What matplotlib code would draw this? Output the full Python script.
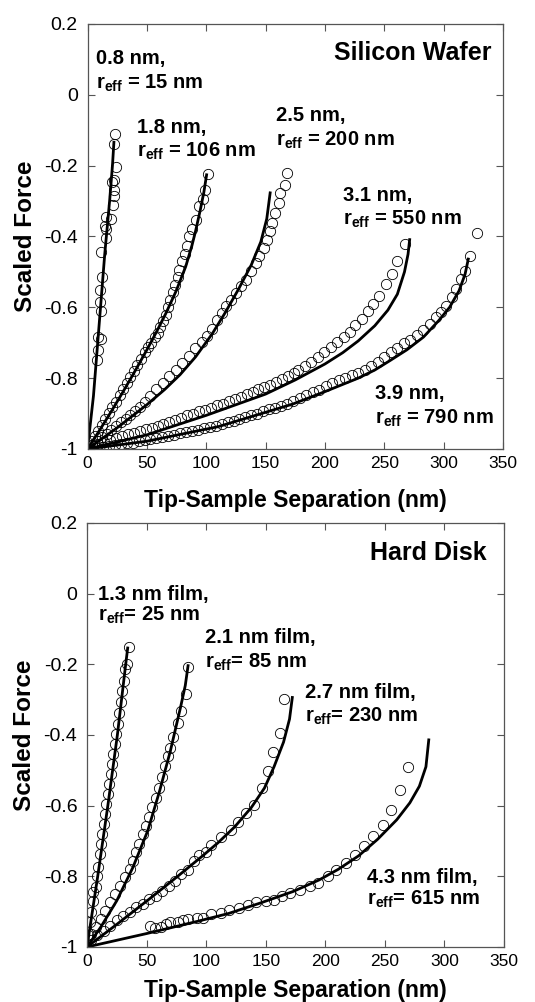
import matplotlib
matplotlib.use("Agg")
import matplotlib.pyplot as plt

plt.rcParams["font.family"] = ["Liberation Sans", "DejaVu Sans"]
plt.rcParams["mathtext.fontset"] = "custom"
plt.rcParams["mathtext.rm"] = "Liberation Sans:bold"
plt.rcParams["mathtext.bf"] = "Liberation Sans:bold"
plt.rcParams["axes.unicode_minus"] = False

# ---------------- Silicon wafer (top) ----------------
si08_fit_x = [0, 5, 10, 14.5, 18.6, 21, 22.3]
si08_fit_y = [-1, -0.85, -0.64, -0.45, -0.30, -0.2, -0.13]
si08_x = [7.7, 9.0, 9.0, 11.7, 11.7, 10.4, 10.4, 12.6, 11.7, 15.3, 15.8, 14.5,
          19.9, 15.8, 21.3, 22.7, 22.7, 20.8, 21.9, 24.0, 22.0, 22.8]
si08_y = [-0.75, -0.72, -0.685, -0.69, -0.61, -0.585, -0.55, -0.515, -0.445, -0.405,
          -0.38, -0.37, -0.35, -0.345, -0.31, -0.285, -0.27, -0.245, -0.24, -0.205,
          -0.14, -0.11]

si18_fit_x = [0, 10, 20, 30, 40, 50, 58, 66, 74.5, 82.7, 88, 91, 95, 98, 100.5]
si18_fit_y = [-1, -0.948, -0.894, -0.838, -0.78, -0.72, -0.67, -0.617, -0.555, -0.485,
              -0.425, -0.385, -0.325, -0.275, -0.222]
si18_x = [3, 6, 9, 12, 15, 18, 21, 24, 27, 30, 33, 36, 39, 42, 45, 48, 51.1, 53.8, 56.6,
          59.3, 61.3, 63.5, 65.7, 67.6, 69.5, 71.7, 73.9, 75.8, 77.2, 79.9, 82.1, 84.1,
          85.4, 88.2, 91.5, 93.7, 97.0, 98.6, 101.9]
si18_y = [-0.978, -0.962, -0.948, -0.932, -0.915, -0.898, -0.882, -0.866, -0.848, -0.832,
          -0.815, -0.797, -0.78, -0.762, -0.745, -0.725, -0.712, -0.70, -0.685, -0.672,
          -0.655, -0.638, -0.621, -0.60, -0.58, -0.558, -0.536, -0.514, -0.494, -0.47,
          -0.449, -0.426, -0.40, -0.379, -0.353, -0.315, -0.294, -0.27, -0.225]

si25_fit_x = [0, 25, 50, 65, 78, 91, 105, 116, 127, 138, 146, 151, 154]
si25_fit_y = [-1, -0.94, -0.875, -0.832, -0.79, -0.74, -0.675, -0.615, -0.55, -0.48,
              -0.415, -0.35, -0.273]
si25_x = [4, 8, 12, 16, 20, 24, 28, 32, 36, 40, 44, 48, 52.5, 58, 63.5, 69, 74.5, 79.9,
          85.4, 90.9, 96.4, 100.5, 104.7, 108.8, 112.9, 117, 121.2, 125.3, 129.4, 133.5,
          137.6, 141.8, 144.5, 148.6, 151.4, 153.6, 155.5, 158.2, 161, 162.4, 166.5, 168.4]
si25_y = [-0.99, -0.978, -0.967, -0.957, -0.947, -0.936, -0.925, -0.914, -0.903, -0.892,
          -0.881, -0.868, -0.85, -0.832, -0.815, -0.795, -0.776, -0.757, -0.737, -0.715,
          -0.698, -0.68, -0.66, -0.635, -0.616, -0.597, -0.578, -0.56, -0.541, -0.522,
          -0.498, -0.475, -0.456, -0.433, -0.409, -0.385, -0.362, -0.334, -0.305, -0.277,
          -0.254, -0.221]

si31_fit_x = [0, 50, 100, 150, 175, 200, 215, 228, 242, 253, 261, 267, 270, 271.5]
si31_fit_y = [-1, -0.96, -0.905, -0.845, -0.805, -0.76, -0.728, -0.695, -0.652, -0.608,
              -0.563, -0.50, -0.45, -0.405]
si31_x = [4, 9, 14, 19, 24, 29, 34, 39, 44, 49, 54, 59, 64, 69, 74, 79, 84, 89, 94, 99,
          104, 109, 114, 119, 124, 129, 134, 139, 144, 149, 154, 159, 164, 169, 174,
          177.6, 183.1, 188.5, 194, 199.5, 204.9, 210.4, 215.8, 221.3, 225.4, 230.9,
          236.3, 240.4, 245.9, 251.4, 256.8, 260.9, 267.8]
si31_y = [-0.99, -0.985, -0.98, -0.975, -0.97, -0.964, -0.958, -0.955, -0.949, -0.944,
          -0.94, -0.934, -0.929, -0.923, -0.918, -0.912, -0.905, -0.901, -0.894, -0.889,
          -0.884, -0.877, -0.872, -0.864, -0.86, -0.853, -0.846, -0.84, -0.832, -0.826,
          -0.818, -0.81, -0.803, -0.795, -0.786, -0.777, -0.766, -0.753, -0.74, -0.726,
          -0.712, -0.698, -0.684, -0.67, -0.651, -0.633, -0.609, -0.591, -0.567, -0.535,
          -0.507, -0.47, -0.42]

si39_fit_x = [0, 50, 110, 173, 200, 228, 242, 255, 269, 283, 296, 305, 313, 318, 321]
si39_fit_y = [-1, -0.978, -0.937, -0.873, -0.838, -0.80, -0.777, -0.75, -0.72, -0.684,
              -0.637, -0.60, -0.553, -0.507, -0.46]
si39_x = [8, 13, 18, 23, 28, 33, 38, 43, 48, 53, 58, 63, 68, 73, 78, 83, 88, 93, 98, 103,
          108, 113, 118, 123, 128, 133, 138, 143, 148, 153, 158, 163, 168, 173.5, 178.9,
          184.4, 189.9, 195.4, 200.8, 206.3, 211.7, 217.2, 222.7, 228.1, 233.6, 239.1,
          244.5, 250, 255.5, 260.9, 266.4, 271.9, 277.3, 282.8, 288.3, 293.7, 297.8,
          301.9, 307.4, 310.1, 314.2, 318.3, 322.4, 328]
si39_y = [-0.996, -0.994, -0.992, -0.99, -0.986, -0.984, -0.982, -0.978, -0.975, -0.972,
          -0.968, -0.966, -0.962, -0.96, -0.955, -0.952, -0.948, -0.945, -0.94, -0.938,
          -0.935, -0.93, -0.925, -0.92, -0.916, -0.91, -0.904, -0.90, -0.893, -0.888,
          -0.884, -0.878, -0.872, -0.865, -0.856, -0.847, -0.84, -0.833, -0.823, -0.814,
          -0.805, -0.80, -0.792, -0.786, -0.777, -0.767, -0.753, -0.74, -0.726, -0.716,
          -0.702, -0.693, -0.679, -0.665, -0.647, -0.628, -0.614, -0.595, -0.572, -0.549,
          -0.521, -0.498, -0.456, -0.39]

# ---------------- Hard disk (bottom) ----------------
hd13_fit_x = [0, 9, 17.5, 25.5, 32.5, 34.3]
hd13_fit_y = [-1, -0.8, -0.6, -0.4, -0.2, -0.15]
hd13_x = [0.8, 2.5, 3.5, 5, 5.2, 7.2, 8.6, 9.5, 10.5, 11.5, 13, 14, 15, 16, 17.5, 18.8,
          20, 21, 22.2, 23.5, 24.5, 25.8, 27.2, 28.3, 29.5, 30.7, 32, 34, 35.5]
hd13_y = [-0.965, -0.93, -0.90, -0.87, -0.845, -0.83, -0.80, -0.775, -0.737, -0.709,
          -0.68, -0.652, -0.624, -0.596, -0.567, -0.539, -0.511, -0.483, -0.454, -0.426,
          -0.398, -0.37, -0.337, -0.308, -0.275, -0.247, -0.214, -0.198, -0.15]

hd21_fit_x = [0, 11.5, 25, 38.5, 51, 61, 70, 78.5, 82.5, 85]
hd21_fit_y = [-1, -0.944, -0.869, -0.775, -0.671, -0.558, -0.445, -0.322, -0.26, -0.2]
hd21_x = [3.3, 7.3, 11.4, 15.5, 19.6, 23.6, 27.7, 31.8, 35.9, 38.6, 41.3, 44, 46.7, 49.5,
          52.2, 54.9, 57.6, 60.3, 63, 65.8, 67.9, 69.8, 72.6, 76.6, 79.3, 83.4, 84.8]
hd21_y = [-0.963, -0.944, -0.921, -0.897, -0.874, -0.85, -0.826, -0.803, -0.779, -0.756,
          -0.732, -0.709, -0.68, -0.657, -0.633, -0.605, -0.577, -0.549, -0.52, -0.487,
          -0.459, -0.436, -0.407, -0.365, -0.332, -0.285, -0.209]

hd27_fit_x = [0, 25, 52, 75, 96, 110, 124, 138, 149, 157, 165, 170, 172.5]
hd27_fit_y = [-1, -0.936, -0.865, -0.803, -0.745, -0.705, -0.66, -0.605, -0.55, -0.49,
              -0.42, -0.355, -0.29]
hd27_x = [3.5, 8.7, 14.1, 19.6, 25, 30.4, 35.9, 41.3, 46.7, 52.2, 57.6, 63, 68.5, 73.9,
          79.3, 84.8, 89.9, 94, 99.5, 104.5, 112.5, 120.5, 127, 133.6, 140.4, 146.5, 152,
          156.3, 161.6, 165.5]
hd27_y = [-0.98, -0.965, -0.954, -0.94, -0.925, -0.913, -0.902, -0.888, -0.878, -0.865,
          -0.855, -0.841, -0.826, -0.812, -0.793, -0.782, -0.758, -0.74, -0.73, -0.71,
          -0.688, -0.668, -0.645, -0.62, -0.599, -0.55, -0.502, -0.449, -0.395, -0.298]

hd43_fit_x = [0, 50, 92, 119, 146, 173, 195, 211, 228, 244, 260, 271, 279, 284.5, 287]
hd43_fit_y = [-1, -0.962, -0.928, -0.905, -0.875, -0.843, -0.81, -0.78, -0.742, -0.695,
              -0.64, -0.592, -0.545, -0.49, -0.41]
hd43_x = [53, 57, 62, 66, 70, 76, 81, 85, 92, 97.3, 104.1, 112.2, 119, 127.2, 135.3,
          142.1, 150.3, 157.1, 163.9, 170.7, 178.8, 187, 193.8, 201.9, 208.7, 217.4, 225,
          232.6, 240, 248.1, 254.9, 262.5, 269.8]
hd43_y = [-0.94, -0.945, -0.943, -0.935, -0.928, -0.928, -0.925, -0.921, -0.918, -0.918,
          -0.908, -0.904, -0.894, -0.889, -0.88, -0.873, -0.871, -0.866, -0.856, -0.847,
          -0.838, -0.828, -0.819, -0.80, -0.781, -0.762, -0.739, -0.715, -0.687, -0.654,
          -0.612, -0.557, -0.49]

x_ticks = [0, 50, 100, 150, 200, 250, 300, 350]
y_ticks = [-1, -0.8, -0.6, -0.4, -0.2, 0, 0.2]
y_tick_labels = ["-1", "-0.8", "-0.6", "-0.4", "-0.2", "0", "0.2"]

top_series = [(si08_x, si08_y, si08_fit_x, si08_fit_y),
              (si18_x, si18_y, si18_fit_x, si18_fit_y),
              (si25_x, si25_y, si25_fit_x, si25_fit_y),
              (si31_x, si31_y, si31_fit_x, si31_fit_y),
              (si39_x, si39_y, si39_fit_x, si39_fit_y)]
bot_series = [(hd13_x, hd13_y, hd13_fit_x, hd13_fit_y),
              (hd21_x, hd21_y, hd21_fit_x, hd21_fit_y),
              (hd27_x, hd27_y, hd27_fit_x, hd27_fit_y),
              (hd43_x, hd43_y, hd43_fit_x, hd43_fit_y)]

R = r"$\mathbf{r}_{\mathbf{eff}}$"
# (text, x, y) in data units, baseline anchored
top_notes = [("0.8 nm,", 7.2, 0.087), (R + " = 15 nm", 7.2, 0.0165),
             ("1.8 nm,", 41.9, -0.108), (R + " = 106 nm", 41.9, -0.175),
             ("2.5 nm,", 158.8, -0.074), (R + " = 200 nm", 158.8, -0.144),
             ("3.1 nm,", 215.2, -0.30), (R + " = 550 nm", 215.2, -0.367),
             ("3.9 nm,", 242.2, -0.859), (R + " = 790 nm", 242.2, -0.929)]
bot_notes = [("1.3 nm film,", 9.2, -0.018), (R + "= 25 nm", 9.2, -0.077),
             ("2.1 nm film,", 99.2, -0.14), (R + "= 85 nm", 99.2, -0.211),
             ("2.7 nm film,", 183.2, -0.296), (R + "= 230 nm", 183.2, -0.362),
             ("4.3 nm film,", 235.3, -0.82), (R + "= 615 nm", 235.3, -0.881)]

fig = plt.figure(figsize=(5.35, 10.02), dpi=100)
ax_top = fig.add_axes([0.1636, 0.5519, 0.7766, 0.4242])
ax_bot = fig.add_axes([0.1626, 0.0549, 0.7794, 0.4232])


def style_axis(ax, title, title_xy, series, notes):
    for xs, ys, fx, fy in series:
        ax.plot(xs, ys, linestyle="none", marker="o", markersize=7.4,
                markerfacecolor="none", markeredgecolor="black", markeredgewidth=0.6)
        ax.plot(fx, fy, color="black", linewidth=2.0, solid_capstyle="butt")
    for txt, x, y in notes:
        ax.text(x, y, txt, fontsize=14.5, fontweight="bold", va="baseline", ha="left")
    ax.text(title_xy[0], title_xy[1], title, transform=ax.transAxes, fontsize=18,
            fontweight="bold", ha="right", va="baseline")
    ax.set_xlim(0, 350)
    ax.set_ylim(-1, 0.2)
    ax.set_xticks(x_ticks)
    ax.set_xticklabels([str(t) for t in x_ticks])
    ax.set_yticks(y_ticks)
    ax.set_yticklabels(y_tick_labels)
    ax.tick_params(direction="in", top=True, right=True, length=5, width=0.8,
                   color="#555555")
    ax.tick_params(axis="x", labelsize=12.5, pad=5)
    ax.tick_params(axis="y", labelsize=14, pad=7)
    for sp in ax.spines.values():
        sp.set_color("#555555")
        sp.set_linewidth(0.9)
    ax.set_xlabel("Tip-Sample Separation (nm)", fontsize=16.5, fontweight="bold")
    ax.set_ylabel("Scaled Force", fontsize=17.5, fontweight="bold")
    ax.yaxis.set_label_coords(-0.122, 0.5)


style_axis(ax_top, "Silicon Wafer", (0.9735, 0.915), top_series, top_notes)
style_axis(ax_bot, "Hard Disk", (0.959, 0.913), bot_series, bot_notes)
ax_top.xaxis.set_label_coords(0.5, -0.095)
ax_bot.xaxis.set_label_coords(0.5, -0.075)

fig.savefig("out.png", dpi=100)
